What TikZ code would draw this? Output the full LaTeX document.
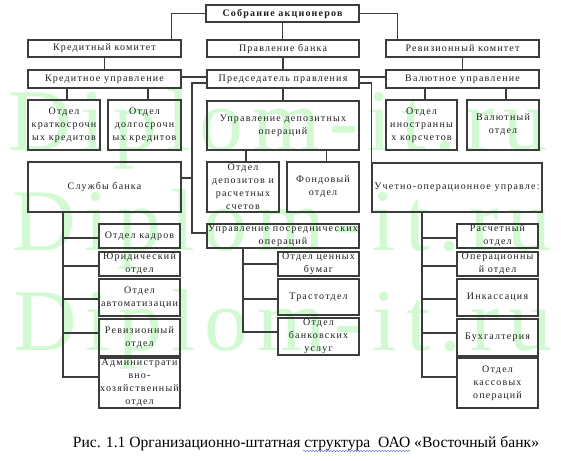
\documentclass[tikz,border=0pt]{standalone}
\usepackage{fontspec}
\setmainfont{Liberation Serif}
\newfontfamily\boxfont[LetterSpace=12]{Liberation Serif}
\newfontfamily\wmfont[LetterSpace=10]{Liberation Serif}
\usetikzlibrary{decorations.pathmorphing}
\definecolor{wm}{RGB}{210,250,210}
\definecolor{ln}{RGB}{60,60,60}
\definecolor{tx}{RGB}{30,30,30}
\definecolor{spell}{RGB}{90,110,220}
\newcommand\orgbox[6]{\node[box, minimum width={(#4-#2)*1pt}, minimum height={(#5-#3)*1pt}] (#1) at ({(#2+#4)/2},{(#3+#5)/2}) {#6};}
\begin{document}
\begin{tikzpicture}[x=1pt,y=-1pt,
  box/.style={draw=ln, line width=1.2pt, inner sep=0pt, align=center, text=tx,
    font=\boxfont\fontsize{10}{13}\selectfont},
  conn/.style={draw=ln, line width=1.1pt},
  wmark/.style={text=wm, font=\wmfont\fontsize{88}{88}\selectfont, anchor=base west, inner sep=0pt},
  capt/.style={text=black, font=\fontsize{15.6}{18}\selectfont, anchor=base, inner sep=0pt}]
\useasboundingbox (0,0) rectangle (561,460);
% watermark
\node[wmark] (wm1) at (8,150) {Diplom-it.ru};
\node[wmark] (wm2) at (12,250) {Diplom-it.ru};
\node[wmark] (wm3) at (13,350) {Diplom-it.ru};
% boxes
\orgbox{sobr}{206}{5}{359}{22}{\bfseries Собрание акционеров}
\orgbox{kk}{28}{40}{181}{57}{Кредитный комитет}
\orgbox{pravl}{207}{40}{359}{57}{Правление банка}
\orgbox{rk}{386}{40}{539}{57}{Ревизионный комитет}
\orgbox{kredupr}{28}{70}{181}{88}{Кредитное управление}
\orgbox{pred}{207}{70}{359}{88}{Председатель правления}
\orgbox{valupr}{386}{70}{539}{88}{Валютное управление}
\orgbox{krat}{28}{100}{100}{150}{Отдел\\краткосрочн\\ых кредитов}
\orgbox{dolg}{108}{100}{181}{150}{Отдел\\долгосрочн\\ых кредитов}
\orgbox{udep}{207}{101}{359}{150}{Управление депозитных\\операций}
\orgbox{inos}{386}{100}{457}{150}{Отдел\\иностранны\\х корсчетов}
\orgbox{valot}{467}{100}{539}{150}{Валютный\\отдел}
\orgbox{sl}{28}{162}{181}{212}{Службы банка}
\orgbox{depot}{207}{162}{279}{212}{Отдел\\депозитов и\\расчетных\\счетов}
\orgbox{fond}{287}{162}{359}{212}{Фондовый\\отдел}
\orgbox{uch}{372}{163}{542}{212}{Учетно-операционное управле:}
\orgbox{upos}{207}{224}{359}{248}{Управление посреднических\\операций}
\orgbox{kadr}{99}{224}{180}{248}{Отдел кадров}
\orgbox{yur}{99}{252}{180}{276}{Юридический\\отдел}
\orgbox{avt}{99}{279}{180}{316}{Отдел\\автоматизации}
\orgbox{rev}{99}{319}{180}{356}{Ревизионный\\отдел}
\orgbox{adm}{99}{358}{180}{408}{Администрати\\вно-\\хозяйственный\\отдел}
\orgbox{cb}{278}{252}{359}{276}{Отдел ценных\\бумаг}
\orgbox{trast}{278}{279}{359}{315}{Трастотдел}
\orgbox{bank}{278}{318}{359}{355}{Отдел\\банковских\\услуг}
\orgbox{rasch}{457}{224}{538}{248}{Расчетный\\отдел}
\orgbox{oper}{457}{252}{538}{276}{Операционны\\й отдел}
\orgbox{ink}{457}{279}{538}{316}{Инкассация}
\orgbox{buh}{457}{319}{538}{356}{Бухгалтерия}
\orgbox{kass}{457}{358}{538}{408}{Отдел\\кассовых\\операций}
% bus coordinates
\coordinate (lb) at (192,0);
\coordinate (sb) at (63,0);
\coordinate (pb) at (243,0);
\coordinate (ub) at (422,0);
% connectors
\draw[conn] (sobr.west) -| ([xshift=-10pt]kk.north east);
\draw[conn] (sobr.east) -| ([xshift=12pt]rk.north west);
\draw[conn] (sobr.south) -- (sobr.south |- pravl.north);
\draw[conn] (kk.south) -- (kk.south |- kredupr.north);
\draw[conn] (pravl.south) -- (pravl.south |- pred.north);
\draw[conn] (rk.south) -- (rk.south |- valupr.north);
\draw[conn] ([yshift=2pt]kredupr.east) -- ([yshift=2pt]kredupr.east -| pred.west);
\draw[conn] ([yshift=2pt]pred.east) -- ([yshift=2pt]pred.east -| valupr.west);
\draw[conn] ([yshift=-4pt]pred.west) -| ([yshift=3pt]upos.west -| lb) -- ([yshift=3pt]upos.west);
\draw[conn] ([yshift=9pt]sl.east) -- ([yshift=9pt]sl.east -| lb);
\draw[conn] ([yshift=-4pt]pred.east) -| (uch.north west);
\draw[conn] ([xshift=3pt]krat.north) -- ([xshift=3pt]krat.north |- kredupr.south);
\draw[conn] ([xshift=3.5pt]dolg.north) -- ([xshift=3.5pt]dolg.north |- kredupr.south);
\draw[conn] ([xshift=3.5pt]inos.north) -- ([xshift=3.5pt]inos.north |- valupr.south);
\draw[conn] ([xshift=3pt]valot.north) -- ([xshift=3pt]valot.north |- valupr.south);
\draw[conn] (pred.south) -- (pred.south |- udep.north);
\draw[conn] ([xshift=3pt]depot.north) -- ([xshift=3pt]depot.north |- udep.south);
\draw[conn] ([xshift=3.5pt]fond.north) -- ([xshift=3.5pt]fond.north |- udep.south);
% services bus
\draw[conn] (sl.south -| sb) |- ([yshift=6pt]adm.west);
\foreach \n/\s in {kadr/-2pt,yur/-2pt,avt/-1.5pt,rev/4.5pt}
  \draw[conn] ([yshift=\s]\n.west) -- ([yshift=\s]\n.west -| sb);
% intermediary bus
\draw[conn] (upos.south -| pb) |- ([yshift=4.5pt]bank.west);
\foreach \n/\s in {cb/0pt,trast/-2pt}
  \draw[conn] ([yshift=\s]\n.west) -- ([yshift=\s]\n.west -| pb);
% accounting bus
\draw[conn] (uch.south -| ub) |- ([yshift=6pt]kass.west);
\foreach \n/\s in {rasch/-2pt,oper/-2pt,ink/-1.5pt,buh/4.5pt}
  \draw[conn] ([yshift=\s]\n.west) -- ([yshift=\s]\n.west -| ub);
% caption
\node[capt] (cap) at (306,447) {Рис. 1.1 Организационно-штатная структура\ \ ОАО «Восточный банк»};
\draw[spell, line width=0.5pt, decorate, decoration={snake, amplitude=0.6pt, segment length=3pt}] (303,451) -- (410,451);
\end{tikzpicture}
\end{document}
